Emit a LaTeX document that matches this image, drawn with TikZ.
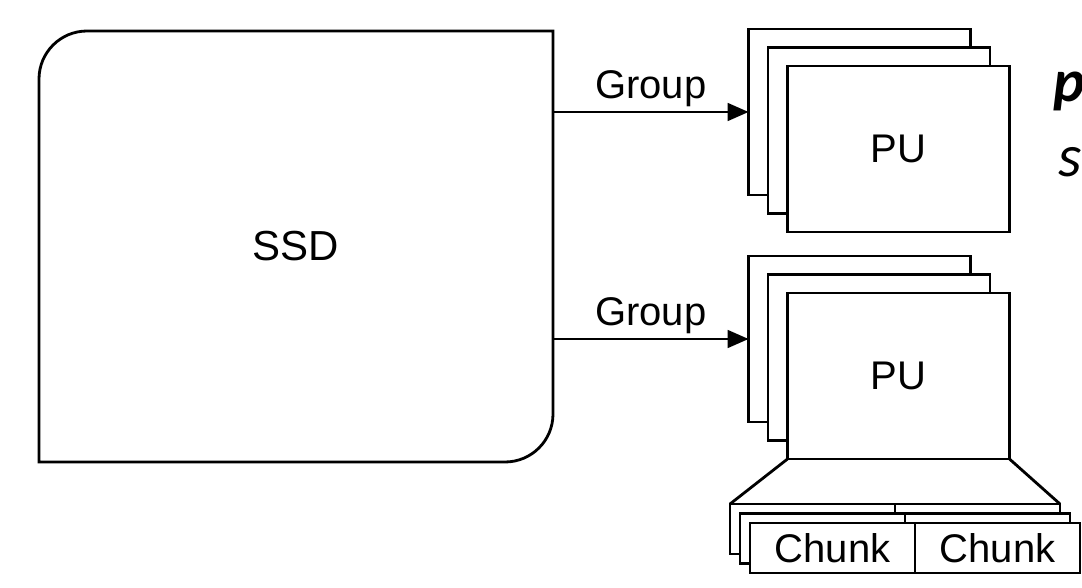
\documentclass[tikz,border=0pt]{standalone}
\usepackage{fontspec}
\setmainfont{Liberation Sans}
\newfontfamily\cutfont{Carlito}
\usepackage{tikz}
\usetikzlibrary{arrows.meta, positioning}

\begin{document}
\begin{tikzpicture}[x=1pt, y=-1pt, line width=2.8pt,
  every node/.style={inner sep=0pt, outer sep=0pt, font=\fontsize{40}{48}\selectfont},
  pubox/.style={draw, fill=white, minimum width=222pt, minimum height=166pt},
  chunkbox/.style={draw, fill=white, minimum width=165pt, minimum height=50pt},
  link/.style={line width=1.8pt, -{Triangle[length=21pt, width=18pt]}}]
  \useasboundingbox (0,0) rectangle (1082,588);
  \clip (0,0) rectangle (1082,588);
  \fill [white] (0,0) rectangle (1082,588);

  % SSD with two round corners
  \node (ssd) [minimum width=514pt, minimum height=431pt, font=\fontsize{42}{50}\selectfont] at (296,246.5) {SSD};
  \draw (ssd.south west) [rounded corners=48pt] -- (ssd.north west) [sharp corners]
    -- (ssd.north east) [rounded corners=48pt] -- (ssd.south east) [sharp corners] -- cycle;

  % PU stacks
  \foreach \n/\y in {a/112, b/339} {
    \node (pu-\n-0) [pubox] at (859.5, \y) {};
    \node (pu-\n-1) [pubox] at (879, \y+18.5) {};
    \node (pu-\n-2) [pubox] at (898.5, \y+37) {PU};
  }

  \draw [link] (ssd.east |- pu-a-0.west) -- node (grp-a) [above=5pt] {Group} (pu-a-0.west);
  \draw [link] (ssd.east |- pu-b-0.west) -- node (grp-b) [above=5pt] {Group} (pu-b-0.west);

  % chunks under the lower PU
  \foreach \i in {0,1} {
    \node (ck-\i-l) [chunkbox] at (812.5+10*\i, 529+9.5*\i) {};
    \node (ck-\i-r) [chunkbox, right=0pt of ck-\i-l] {};
  }
  \node (ck-2-l) [chunkbox] at (832.5, 548) {Chunk};
  \node (ck-2-r) [chunkbox, right=0pt of ck-2-l] {Chunk};

  \draw (pu-b-2.south west) -- (ck-0-l.north west);
  \draw (pu-b-2.south east) -- (ck-0-r.north east);

  % cut text at the right edge
  \node (cut-p) [anchor=base west, font=\cutfont\fontsize{60}{72}\selectfont\bfseries\itshape] at (1053,102) {p};
  \node (cut-s) [anchor=base west, font=\cutfont\fontsize{60}{72}\selectfont\itshape] at (1058,177) {s};
\end{tikzpicture}
\end{document}
